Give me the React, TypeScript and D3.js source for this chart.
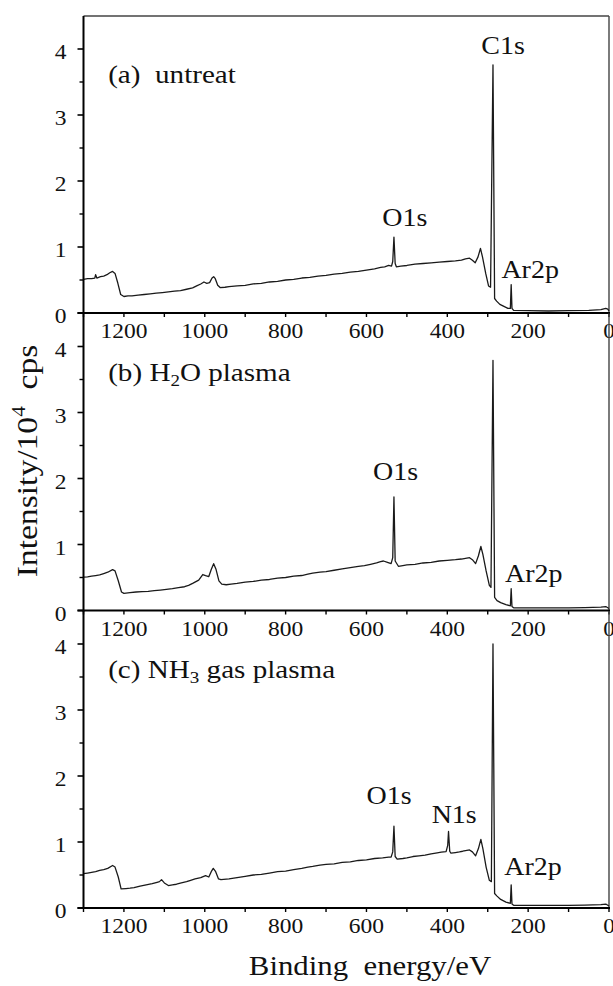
import React from "react";
import * as d3 from "d3";

// ---------- data (binding energy eV, intensity /10^4 cps) ----------
const spectrumA: [number, number][] = [
  [1300, 0.51], [1290, 0.52], [1280, 0.52], [1272, 0.53], [1270, 0.58], [1267, 0.53], [1258, 0.55],
  [1250, 0.56], [1242, 0.58], [1235, 0.61], [1228, 0.63], [1222, 0.6], [1215, 0.45], [1208, 0.28],
  [1200, 0.25], [1190, 0.26], [1180, 0.26], [1165, 0.27], [1150, 0.28], [1135, 0.29], [1120, 0.3],
  [1105, 0.31], [1090, 0.32], [1075, 0.33], [1060, 0.34], [1045, 0.36], [1030, 0.38], [1020, 0.41],
  [1010, 0.44], [1002, 0.47], [995, 0.45], [988, 0.46], [982, 0.53], [978, 0.55], [974, 0.52],
  [968, 0.42], [962, 0.385], [950, 0.39], [940, 0.4], [920, 0.41], [900, 0.42], [880, 0.44],
  [860, 0.45], [840, 0.47], [820, 0.48], [800, 0.5], [780, 0.51], [760, 0.53], [740, 0.54],
  [720, 0.56], [700, 0.57], [680, 0.59], [660, 0.6], [640, 0.62], [620, 0.63], [600, 0.65],
  [580, 0.67], [565, 0.69], [555, 0.7], [545, 0.72], [538, 0.71], [535, 0.78], [532, 1.15],
  [529, 0.75], [526, 0.7], [515, 0.71], [500, 0.72], [480, 0.74], [460, 0.75], [440, 0.76],
  [420, 0.77], [400, 0.78], [380, 0.79], [365, 0.8], [355, 0.82], [345, 0.83], [338, 0.8],
  [331, 0.76], [324, 0.85], [318, 0.98], [313, 0.85], [305, 0.6], [298, 0.41], [293, 0.39],
  [287, 3.76], [283, 0.22], [278, 0.18], [270, 0.13], [260, 0.1], [250, 0.07], [244, 0.07],
  [242, 0.43], [240, 0.07], [236, 0.04], [200, 0.035], [150, 0.03], [100, 0.035], [50, 0.04],
  [20, 0.05], [8, 0.07], [3, 0.06], [0, 0.03],
];

const spectrumB: [number, number][] = [
  [1300, 0.505], [1290, 0.51], [1280, 0.52], [1270, 0.53], [1260, 0.54], [1250, 0.56], [1240, 0.58],
  [1228, 0.62], [1222, 0.6], [1214, 0.45], [1206, 0.28], [1200, 0.26], [1185, 0.27], [1170, 0.28],
  [1155, 0.285], [1140, 0.29], [1125, 0.3], [1110, 0.31], [1095, 0.32], [1080, 0.33], [1065, 0.345],
  [1050, 0.36], [1040, 0.38], [1030, 0.41], [1015, 0.46], [1005, 0.545], [998, 0.53], [990, 0.515],
  [984, 0.62], [978, 0.71], [972, 0.62], [965, 0.45], [958, 0.4], [947, 0.39], [935, 0.4],
  [920, 0.41], [900, 0.43], [880, 0.44], [860, 0.46], [840, 0.47], [820, 0.49], [800, 0.5],
  [780, 0.52], [760, 0.53], [745, 0.55], [733, 0.565], [715, 0.58], [700, 0.59], [680, 0.61],
  [660, 0.63], [640, 0.65], [620, 0.67], [605, 0.68], [590, 0.7], [575, 0.72], [565, 0.74],
  [558, 0.75], [548, 0.73], [539, 0.71], [535, 0.8], [532, 1.72], [529, 0.75], [521, 0.67],
  [510, 0.68], [500, 0.69], [480, 0.7], [460, 0.72], [440, 0.73], [420, 0.75], [400, 0.76],
  [380, 0.77], [365, 0.78], [355, 0.79], [345, 0.8], [338, 0.77], [330, 0.71], [323, 0.83],
  [317, 0.97], [312, 0.85], [304, 0.6], [296, 0.38], [292, 0.35], [287, 3.79], [283, 0.2],
  [277, 0.15], [268, 0.12], [255, 0.09], [244, 0.07], [242, 0.33], [240, 0.06], [236, 0.04],
  [200, 0.04], [150, 0.04], [100, 0.04], [60, 0.045], [20, 0.05], [8, 0.06], [0, 0.03],
];

const spectrumC: [number, number][] = [
  [1300, 0.52], [1290, 0.53], [1280, 0.54], [1270, 0.55], [1260, 0.57], [1250, 0.58], [1240, 0.6],
  [1228, 0.645], [1222, 0.62], [1214, 0.47], [1207, 0.29], [1195, 0.295], [1185, 0.3], [1175, 0.31],
  [1160, 0.33], [1145, 0.35], [1130, 0.37], [1118, 0.39], [1112, 0.4], [1107, 0.43], [1100, 0.38],
  [1090, 0.34], [1080, 0.35], [1070, 0.36], [1058, 0.38], [1045, 0.4], [1035, 0.42], [1024, 0.44],
  [1010, 0.46], [998, 0.49], [990, 0.47], [984, 0.55], [979, 0.6], [973, 0.55], [966, 0.44],
  [960, 0.43], [940, 0.44], [920, 0.46], [900, 0.48], [880, 0.5], [860, 0.51], [840, 0.53],
  [820, 0.55], [800, 0.56], [780, 0.58], [760, 0.6], [745, 0.62], [733, 0.63], [715, 0.65],
  [700, 0.66], [680, 0.67], [660, 0.69], [640, 0.7], [620, 0.72], [600, 0.73], [580, 0.75],
  [560, 0.76], [545, 0.77], [539, 0.77], [535, 0.85], [532, 1.24], [529, 0.78], [524, 0.74],
  [510, 0.75], [500, 0.76], [485, 0.78], [470, 0.79], [455, 0.8], [440, 0.82], [425, 0.835],
  [415, 0.845], [403, 0.855], [399, 0.95], [397, 1.16], [394, 0.86], [391, 0.83], [380, 0.84],
  [370, 0.85], [362, 0.86], [355, 0.87], [345, 0.88], [338, 0.85], [330, 0.79], [323, 0.9],
  [317, 1.04], [312, 0.9], [304, 0.62], [296, 0.42], [291, 0.4], [287, 4.0], [283, 0.22],
  [277, 0.18], [268, 0.13], [255, 0.09], [244, 0.07], [242, 0.35], [240, 0.06], [236, 0.04],
  [200, 0.04], [150, 0.04], [100, 0.04], [60, 0.045], [20, 0.05], [8, 0.06], [0, 0.03],
];

const energyTickLabels = [1200, 1000, 800, 600, 400, 200, 0];
const energyMinorTicks = [1300, 1100, 900, 700, 500, 300, 100];
const intensityTickLabels = [0, 1, 2, 3, 4];
const intensityMinorTicks = [0.5, 1.5, 2.5, 3.5];

// peak annotations: [text, binding energy, intensity]
const peaksA: [string, number, number][] = [["C1s", 262, 3.93], ["O1s", 505, 1.32], ["Ar2p", 195, 0.53]];
const peaksB: [string, number, number][] = [["O1s", 528, 1.98], ["Ar2p", 186, 0.43]];
const peaksC: [string, number, number][] = [["O1s", 544, 1.58], ["N1s", 383, 1.29], ["Ar2p", 188, 0.5]];

// ---------- layout ----------
const W = 613;
const H = 986;
const FONT = "'Liberation Serif', 'Times New Roman', serif";
const SX = 1.12; // horizontal stretch of the original typography
const X0 = 83.5;
const X1 = 609;
const UNIT = 66;
const YMAX = 4.5;

const xScale = d3.scaleLinear().domain([1300, 0]).range([X0, X1]);

type PanelProps = {
  zero: number;
  data: [number, number][];
  peaks: [string, number, number][];
  title: React.ReactNode;
  drawTop?: boolean;
};

function T({ x, y, anchor = "middle", size, children, rotate = 0 }: any) {
  const tf = rotate
    ? `translate(${x},${y}) rotate(${rotate}) scale(${SX},1)`
    : `translate(${x},${y}) scale(${SX},1)`;
  return (
    <text
      transform={tf}
      textAnchor={anchor}
      fontFamily={FONT}
      fontSize={size}
      fill="#111"
      style={{ whiteSpace: "pre" }}
    >
      {children}
    </text>
  );
}

function Panel({ zero, data, peaks, title, drawTop }: PanelProps) {
  const yScale = d3.scaleLinear().domain([0, YMAX]).range([zero, zero - YMAX * UNIT]);
  const top = yScale(YMAX);
  const line = d3
    .line<[number, number]>()
    .x((d) => xScale(d[0]))
    .y((d) => yScale(d[1]));
  return (
    <g>
      {drawTop && <line x1={X0} x2={X1} y1={top} y2={top} stroke="#444" strokeWidth={1.4} />}
      <line x1={X1} x2={X1} y1={top} y2={zero} stroke="#444" strokeWidth={1.4} />
      <path d={line(data) || ""} fill="none" stroke="#1a1a1a" strokeWidth={1.3} strokeLinejoin="round" />
      {/* y axis */}
      <line x1={X0} x2={X0} y1={top} y2={zero + 1} stroke="#000" strokeWidth={2} />
      {intensityTickLabels.map((v) => (
        <g key={"yt" + v}>
          <line x1={X0 - 6} x2={X0} y1={yScale(v)} y2={yScale(v)} stroke="#000" strokeWidth={1.6} />
          <T x={X0 - 17} y={yScale(v) + 10} anchor="end" size={21}>
            {String(v)}
          </T>
        </g>
      ))}
      {intensityMinorTicks.map((v) => (
        <line key={"ym" + v} x1={X0 - 4} x2={X0} y1={yScale(v)} y2={yScale(v)} stroke="#000" strokeWidth={1.4} />
      ))}
      {/* x axis */}
      <line x1={X0 - 6} x2={X1 + 1} y1={zero} y2={zero} stroke="#000" strokeWidth={2} />
      {[...energyTickLabels, ...energyMinorTicks].map((e) => (
        <line key={"xt" + e} x1={xScale(e)} x2={xScale(e)} y1={zero} y2={zero + 4} stroke="#000" strokeWidth={1.4} />
      ))}
      {energyTickLabels.map((e) => (
        <T key={"xl" + e} x={xScale(e)} y={zero + 25} size={21}>
          {String(e)}
        </T>
      ))}
      {peaks.map(([t, e, v]) => (
        <T key={t} x={xScale(e)} y={yScale(v)} size={25}>
          {t}
        </T>
      ))}
      <T x={xScale(1239)} y={yScale(3.48)} anchor="start" size={26}>
        {title}
      </T>
    </g>
  );
}

export default function App() {
  return (
    <svg
      width={W}
      height={H}
      viewBox={`0 0 ${W} ${H}`}
      style={{ position: "absolute", left: 0, top: 0, background: "#fff" }}
    >
      <rect x={0} y={0} width={W} height={H} fill="#fff" />
      <Panel zero={313} data={spectrumA} peaks={peaksA} drawTop title={"(a)  untreat"} />
      <Panel
        zero={610.5}
        data={spectrumB}
        peaks={peaksB}
        title={
          <>
            {"(b) H"}
            <tspan fontSize={17} dy={5}>2</tspan>
            <tspan dy={-5}>{"O plasma"}</tspan>
          </>
        }
      />
      <Panel
        zero={908}
        data={spectrumC}
        peaks={peaksC}
        title={
          <>
            {"(c) NH"}
            <tspan fontSize={17} dy={5}>3</tspan>
            <tspan dy={-5}>{" gas plasma"}</tspan>
          </>
        }
      />
      <T x={370} y={975} size={27.5}>
        {"Binding  energy/eV"}
      </T>
      <T x={37} y={461} size={30} rotate={-90}>
        {"Intensity/10"}
        <tspan fontSize={19} dy={-12}>4</tspan>
        <tspan dy={12}>{"  cps"}</tspan>
      </T>
    </svg>
  );
}
